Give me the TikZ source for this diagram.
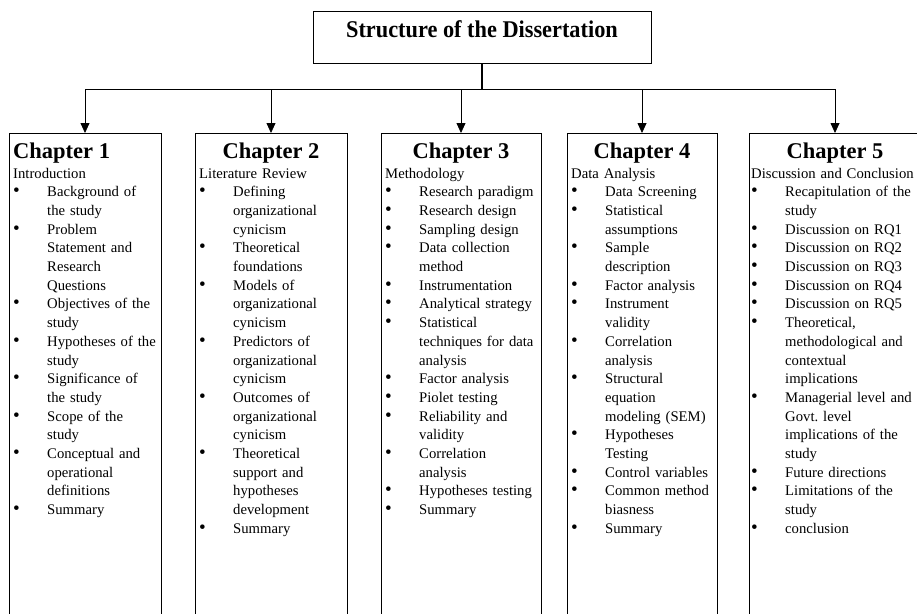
\documentclass[tikz,border=0pt]{standalone}
\usepackage{fontspec}
\setmainfont{Liberation Serif}
\usepackage{graphicx}
\usepackage{tikz}
\usetikzlibrary{arrows.meta,positioning}

% chapter subtitle, then hanging bullet points
\newcommand{\chapsub}[1]{\rightskip=0pt plus 1fil\noindent #1\par\leftskip=34pt }
\newcommand{\bitem}[1]{\noindent\llap{\makebox[34pt][l]{\scalebox{1.3}{\textbullet}}}#1\par}

\begin{document}
\begin{tikzpicture}[x=1pt, y=-1pt,
    titlebox/.style={draw, line width=1pt, inner sep=0pt, anchor=base,
      minimum width=338pt, text height=26pt, text depth=26pt,
      font=\fontsize{24}{28}\selectfont\bfseries},
    chapbox/.style={draw, line width=0.8pt, anchor=north, minimum height=520pt},
    chaphead/.style={inner sep=0pt, anchor=base,
      font=\fontsize{22.5}{27}\selectfont\bfseries},
    chapbody/.style={inner sep=0pt, anchor=base west, text width=190pt,
      align=left, font=\fontsize{14.7}{18.7}\selectfont},
    link/.style={line width=0.8pt},
    stem/.style={line width=1.3pt},
    arr/.style={line width=0.8pt, -{Triangle[width=9pt,length=10pt]}},
  ]
  \useasboundingbox (0,0) rectangle (917,613);
  \clip (0,0) rectangle (917,613);

  \node[titlebox] (title) at (482,37) {\scalebox{0.93}[1]{Structure of the Dissertation}};

  \node[chapbox, minimum width=152pt] (ch1) at (85,133) {};
  \node[chapbox, minimum width=152pt] (ch2) at (271,133) {};
  \node[chapbox, minimum width=160pt] (ch3) at (461,133) {};
  \node[chapbox, minimum width=150pt] (ch4) at (642,133) {};
  \node[chapbox, minimum width=172pt] (ch5) at (835,133) {};

  \node[chaphead, anchor=base west] (h1) at (13,158) {Chapter 1};
  \node[chaphead] (h2) at (271,158) {Chapter 2};
  \node[chaphead] (h3) at (461,158) {Chapter 3};
  \node[chaphead] (h4) at (642,158) {Chapter 4};
  \node[chaphead] (h5) at (835,158) {Chapter 5};

  \node[chapbody] (b1) at (13,178) {\chapsub{Introduction}
    \bitem{Background of\\the study}
    \bitem{Problem\\Statement and\\Research\\Questions}
    \bitem{Objectives of the\\study}
    \bitem{Hypotheses of the\\study}
    \bitem{Significance of\\the study}
    \bitem{Scope of the\\study}
    \bitem{Conceptual and\\operational\\definitions}
    \bitem{Summary}};
  \node[chapbody] (b2) at (199,178) {\chapsub{Literature Review}
    \bitem{Defining\\organizational\\cynicism}
    \bitem{Theoretical\\foundations}
    \bitem{Models of\\organizational\\cynicism}
    \bitem{Predictors of\\organizational\\cynicism}
    \bitem{Outcomes of\\organizational\\cynicism}
    \bitem{Theoretical\\support and\\hypotheses\\development}
    \bitem{Summary}};
  \node[chapbody] (b3) at (385,178) {\chapsub{Methodology}
    \bitem{Research paradigm}
    \bitem{Research design}
    \bitem{Sampling design}
    \bitem{Data collection\\method}
    \bitem{Instrumentation}
    \bitem{Analytical strategy}
    \bitem{Statistical\\techniques for data\\analysis}
    \bitem{Factor analysis}
    \bitem{Piolet testing}
    \bitem{Reliability and\\validity}
    \bitem{Correlation\\analysis}
    \bitem{Hypotheses testing}
    \bitem{Summary}};
  \node[chapbody] (b4) at (571,178) {\chapsub{Data Analysis}
    \bitem{Data Screening}
    \bitem{Statistical\\assumptions}
    \bitem{Sample\\description}
    \bitem{Factor analysis}
    \bitem{Instrument\\validity}
    \bitem{Correlation\\analysis}
    \bitem{Structural\\equation\\modeling (SEM)}
    \bitem{Hypotheses\\Testing}
    \bitem{Control variables}
    \bitem{Common method\\biasness}
    \bitem{Summary}};
  \node[chapbody] (b5) at (751,178) {\chapsub{Discussion and Conclusion}
    \bitem{Recapitulation of the\\study}
    \bitem{Discussion on RQ1}
    \bitem{Discussion on RQ2}
    \bitem{Discussion on RQ3}
    \bitem{Discussion on RQ4}
    \bitem{Discussion on RQ5}
    \bitem{Theoretical,\\methodological and\\contextual\\implications}
    \bitem{Managerial level and\\Govt.\ level\\implications of the\\study}
    \bitem{Future directions}
    \bitem{Limitations of the\\study}
    \bitem{conclusion}};

  % connectors
  \coordinate (bus) at (482,89);
  \draw[stem] (title.south) -- (bus);
  \draw[link] (ch1.north |- bus) -- (ch5.north |- bus);
  \foreach \c in {ch1,ch2,ch3,ch4,ch5}
    \draw[arr] (\c.north |- bus) -- (\c.north);
\end{tikzpicture}
\end{document}
